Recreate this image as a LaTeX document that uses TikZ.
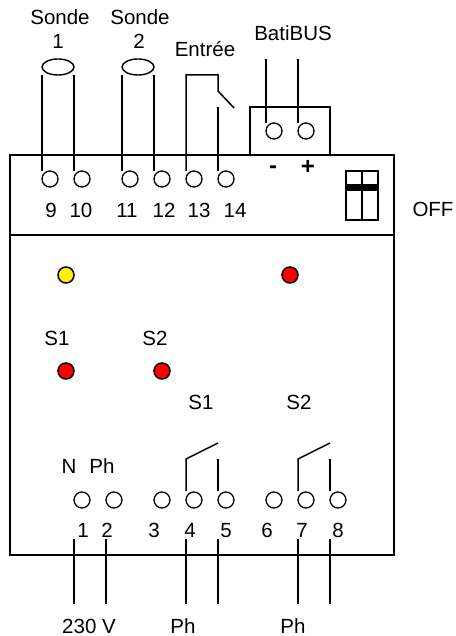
\documentclass[tikz,border=0pt]{standalone}
\usepackage{fontspec}
\setmainfont{Liberation Sans}
\usetikzlibrary{calc,shapes.geometric}
\tikzset{
  wire/.style={line width=1.5pt,line cap=butt,line join=miter,black},
  term/.style={circle,draw=black,line width=1.3pt,fill=white,minimum size=16pt,inner sep=0pt},
  led/.style={circle,draw=black,line width=1.5pt,minimum size=16pt,inner sep=0pt},
  lbl/.style={anchor=base,inner sep=0pt,outer sep=0pt,font=\fontsize{20.5}{24}\selectfont,text=black},
  sign/.style={anchor=base,inner sep=0pt,outer sep=0pt,font=\fontsize{24}{28}\selectfont\bfseries,text=black},
  box/.style={draw=black,line width=1.5pt,fill=white},
  probe/.style={draw=black,line width=1.4pt,ellipse,minimum width=32pt,minimum height=16pt,inner sep=0pt,fill=white},
}
\begin{document}
\begin{tikzpicture}[x=1pt,y=-1pt]
\useasboundingbox (0,0) rectangle (455,636);
% housing
\node[box,minimum width=80pt,minimum height=48pt,inner sep=0pt] (bus) at (290,131) {};
\node[box,minimum width=384pt,minimum height=400pt,inner sep=0pt] (case) at (202,355) {};
\coordinate (divL) at (10,235);
\coordinate (divR) at (394,235);
\draw[wire] (divL) -- (divR);
% terminals
\foreach \n/\x in {9/50,10/82,11/130,12/162,13/194,14/226}{\node[term] (t\n) at (\x,179) {};}
\foreach \n/\x in {m/274,p/306}{\node[term] (b\n) at (\x,131) {};}
\foreach \n/\x in {1/82,2/114,3/162,4/194,5/226,6/274,7/306,8/338}{\node[term] (t\n) at (\x,500) {};}
% probes
\node[probe] (e1) at (58,67) {};
\node[probe] (e2) at (138,67) {};
\draw[wire] ($(e1)+(-16,8)$) -- ($(t9)+(-8,-8)$);
\draw[wire] ($(e1)+(16,8)$) -- ($(t10)+(-8,-8)$);
\draw[wire] ($(e2)+(-16,8)$) -- ($(t11)+(-8,-8)$);
\draw[wire] ($(e2)+(16,8)$) -- ($(t12)+(-8,-8)$);
% input contact
\coordinate (inTL) at (186,75);
\coordinate (inTR) at (218,75);
\coordinate (inK) at (218,91);
\coordinate (inEnd) at (234,108);
\coordinate (inS) at (218,107);
\draw[wire] ($(t13)+(-8,-8)$) -- (inTL) -- (inTR) -- (inK) -- (inEnd);
\draw[wire] (inS) -- ($(t14)+(-8,-8)$);
% bus
\coordinate (busA) at (266,59);
\coordinate (busB) at (298,59);
\draw[wire] (busA) -- ($(bm)+(-8,-8)$);
\draw[wire] (busB) -- ($(bp)+(-8,-8)$);
% relays
\coordinate (r1K) at (186,459); \coordinate (r1E) at (218,443); \coordinate (r1S) at (218,459);
\coordinate (r2K) at (298,459); \coordinate (r2E) at (330,443); \coordinate (r2S) at (330,459);
\draw[wire] ($(t4)+(-8,-9)$) -- (r1K) -- (r1E);
\draw[wire] (r1S) -- ($(t5)+(-8,-9)$);
\draw[wire] ($(t7)+(-8,-9)$) -- (r2K) -- (r2E);
\draw[wire] (r2S) -- ($(t8)+(-8,-9)$);
% bottom wires
\foreach \n/\x in {1/74,2/106,4/186,5/218,7/298,8/330}{
  \coordinate (wt\n) at (\x,539); \coordinate (wb\n) at (\x,604);
  \draw[wire] (wt\n) -- (wb\n);
}
% DIP switch
\node[draw=black,line width=1.5pt,minimum width=32pt,minimum height=49pt,inner sep=0pt,fill=white] (dip) at (362,195.5) {};
\fill[black] (346,184) rectangle (378,191);
\draw[wire] (dip.north) -- (dip.south);
% LEDs
\node[led,fill=yellow] (l1) at (66,275) {};
\node[led,fill=red] (l2) at (290,275) {};
\node[led,fill=red] (l3) at (66,371) {};
\node[led,fill=red] (l4) at (162,371) {};
% labels
\node[lbl] (tS1) at (60,25) {Sonde};
\node[lbl] (tN1) at (58,49) {1};
\node[lbl] (tS2) at (140,25) {Sonde};
\node[lbl] (tN2) at (139,49) {2};
\node[lbl] (tE) at (205,57) {Entrée};
\node[lbl] (tB) at (293,41) {BatiBUS};
\node[sign] (tm) at (273,174) {-};
\node[sign] (tp) at (308,175) {+};
\node[lbl] (tO) at (433,216) {OFF};
\foreach \t/\x in {9/51,10/81,11/127,12/164,13/199,14/235}{\node[lbl] (nt\t) at (\x,217) {\t};}
\node[lbl] (s1a) at (57,345) {S1};
\node[lbl] (s2a) at (155,345) {S2};
\node[lbl] (s1b) at (201,409) {S1};
\node[lbl] (s2b) at (299,409) {S2};
\node[lbl] (tNn) at (69,473) {N};
\node[lbl] (tPh) at (102,473) {Ph};
\foreach \t/\x in {1/83,2/107,3/154,4/190,5/226,6/267,7/302,8/338}{\node[lbl] (nb\t) at (\x,537) {\t};}
\node[lbl] (v230) at (89,633) {230 V};
\node[lbl] (ph1) at (183,633) {Ph};
\node[lbl] (ph2) at (293,633) {Ph};
\end{tikzpicture}
\end{document}
